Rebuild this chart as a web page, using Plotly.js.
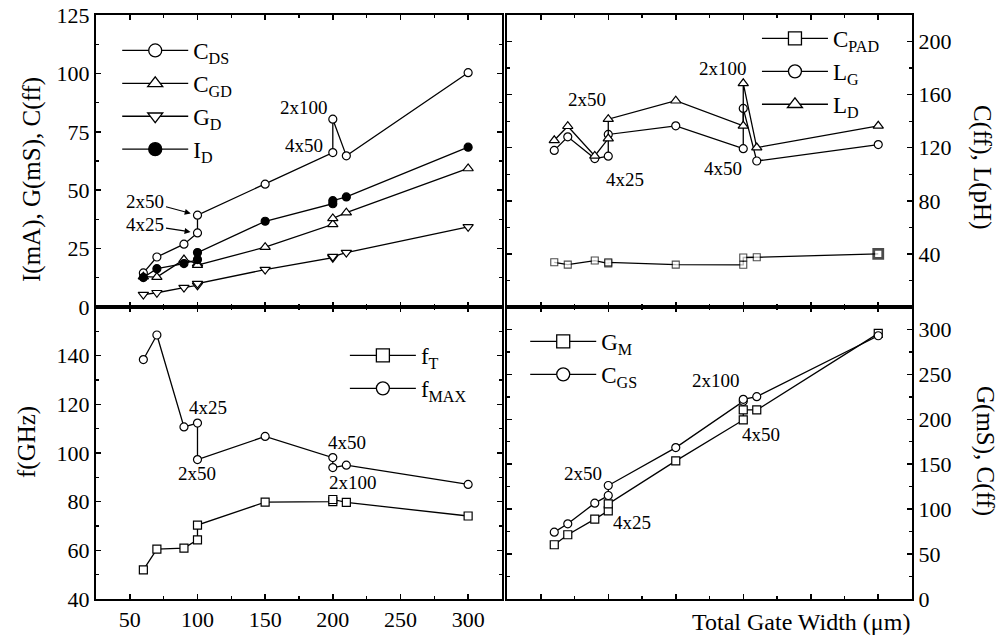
<!DOCTYPE html>
<html><head><meta charset="utf-8">
<script src="https://cdn.plot.ly/plotly-3.0.1.min.js"></script>
<style>html,body{margin:0;padding:0;background:#fff}</style>
</head><body><div id="chart" style="width:1005px;height:641px"></div>
<script>
// Total gate width (um) for each device, in plotting order
const gateWidth = [60, 70, 90, 100, 100, 150, 200, 200, 210, 300];

// Top-left panel
const cDS = [14.6, 21.4, 26.9, 31.7, 39.3, 52.6, 66.1, 80.4, 64.7, 100.3];
const cGD = [13.0, 12.8, 20.3, 18.6, 17.9, 25.6, 35.4, 37.9, 40.4, 59.3];
const gD  = [5.3, 6.1, 8.3, 9.3, 10.0, 16.0, 21.1, 21.6, 23.3, 34.3];
const iD  = [12.6, 16.4, 18.6, 20.3, 23.3, 36.7, 44.2, 45.5, 47.1, 68.4];

// Top-right panel
const cPAD = [33.7, 31.9, 35.0, 32.9, 33.6, 31.9, 31.8, 37.3, 37.5, 40.0];
const lG   = [118.0, 128.2, 111.8, 113.6, 130.0, 136.5, 119.3, 149.6, 110.0, 122.4];
const lD   = [125.6, 136.2, 113.8, 126.9, 141.5, 155.4, 136.5, 168.5, 120.1, 136.5];

// Bottom-left panel
const fT   = [52.0, 60.5, 60.9, 64.3, 70.4, 79.8, 80.0, 80.9, 79.7, 74.1];
const fMAX = [138.4, 148.5, 110.7, 112.3, 97.3, 106.8, 98.1, 94.0, 95.0, 87.1];

// Bottom-right panel
const gM  = [60.4, 71.5, 88.9, 98.1, 105.9, 153.7, 199.3, 210.4, 210.4, 295.6];
const cGS = [74.4, 83.7, 106.7, 115.2, 126.3, 168.5, 220.0, 222.2, 225.2, 293.0];

// Tick labels
const xTicks   = [50, 100, 150, 200, 250, 300];
const yTicksTL = [0, 25, 50, 75, 100, 125];
const yTicksTR = [40, 80, 120, 160, 200];
const yTicksBL = [40, 60, 80, 100, 120, 140];
const yTicksBR = [0, 50, 100, 150, 200, 250, 300];

const FONT = '"Liberation Serif"';
const BLACK = '#000';

function trace(name, y, xa, ya, symbol, fill, size) {
  return {
    type: 'scatter', mode: 'lines+markers', name: name, showlegend: false,
    x: gateWidth, y: y, xaxis: xa, yaxis: ya,
    line: {color: BLACK, width: 1.3},
    marker: {symbol: symbol, size: size || 8, color: fill, line: {color: BLACK, width: 1.2}},
    cliponaxis: false
  };
}
// legend entry (no data points drawn): same style, larger symbol
function key(name, xa, ya, leg, symbol, fill) {
  return {
    type: 'scatter', mode: 'lines+markers', name: name, legend: leg,
    x: [null], y: [null], xaxis: xa, yaxis: ya,
    line: {color: BLACK, width: 1.3},
    marker: {symbol: symbol, size: 13, color: fill, line: {color: BLACK, width: 1.3}}
  };
}

const traces = [
  trace('C<sub>DS</sub>', cDS, 'x', 'y', 'circle', '#fff'),
  trace('C<sub>GD</sub>', cGD, 'x', 'y', 'triangle-up', '#fff', 9),
  trace('G<sub>D</sub>', gD, 'x', 'y', 'triangle-down', '#fff', 9),
  trace('I<sub>D</sub>', iD, 'x', 'y', 'circle', BLACK, 8),
  trace('C<sub>PAD</sub>', cPAD, 'x2', 'y2', 'square', '#fff', 7),
  trace('L<sub>G</sub>', lG, 'x2', 'y2', 'circle', '#fff'),
  trace('L<sub>D</sub>', lD, 'x2', 'y2', 'triangle-up', '#fff', 9),
  trace('f<sub>T</sub>', fT, 'x3', 'y3', 'square', '#fff'),
  trace('f<sub>MAX</sub>', fMAX, 'x3', 'y3', 'circle', '#fff'),
  trace('G<sub>M</sub>', gM, 'x4', 'y4', 'square', '#fff'),
  trace('C<sub>GS</sub>', cGS, 'x4', 'y4', 'circle', '#fff')
];
// bold last C_PAD marker
traces[4].marker.line.width = cPAD.map((v, i) => i === cPAD.length - 1 ? 2.8 : 1.1);
traces[4].marker.size = cPAD.map((v, i) => i === cPAD.length - 1 ? 9 : 7);

const keys = [
  key('C<sub>DS</sub>', 'x', 'y', 'legend', 'circle', '#fff'),
  key('C<sub>GD</sub>', 'x', 'y', 'legend', 'triangle-up', '#fff'),
  key('G<sub>D</sub>', 'x', 'y', 'legend', 'triangle-down', '#fff'),
  key('I<sub>D</sub>', 'x', 'y', 'legend', 'circle', BLACK),
  key('C<sub>PAD</sub>', 'x2', 'y2', 'legend2', 'square', '#fff'),
  key('L<sub>G</sub>', 'x2', 'y2', 'legend2', 'circle', '#fff'),
  key('L<sub>D</sub>', 'x2', 'y2', 'legend2', 'triangle-up', '#fff'),
  key('f<sub>T</sub>', 'x3', 'y3', 'legend3', 'square', '#fff'),
  key('f<sub>MAX</sub>', 'x3', 'y3', 'legend3', 'circle', '#fff'),
  key('G<sub>M</sub>', 'x4', 'y4', 'legend4', 'square', '#fff'),
  key('C<sub>GS</sub>', 'x4', 'y4', 'legend4', 'circle', '#fff')
];

function axis(extra, minorDtick) {
  return Object.assign({
    showline: true, linecolor: BLACK, linewidth: 2, mirror: 'allticks',
    ticks: 'inside', ticklen: 5, tickwidth: 1.5, tickcolor: BLACK,
    showgrid: false, zeroline: false, fixedrange: true,
    tickfont: {family: FONT, size: 22, color: BLACK},
    minor: {ticks: 'inside', ticklen: 3, tickwidth: 1.3, tickcolor: BLACK, showgrid: false, dtick: minorDtick}
  }, extra);
}

const XL = [0, 0.4975], XR = [0.5037, 1], YT = [0.5, 1], YB = [0, 0.5];

function legendAt(x, y) {
  return {x: x, y: y, xanchor: 'left', yanchor: 'top', bgcolor: 'rgba(0,0,0,0)',
    borderwidth: 0, itemwidth: 66,
    font: {family: FONT, size: 23, color: BLACK}, tracegroupgap: 0};
}

function note(text, x, y, xref, yref, extra) {
  return Object.assign({text: text, x: x, y: y, xref: xref, yref: yref, showarrow: false,
    xanchor: 'center', yanchor: 'middle',
    font: {family: FONT, size: 19, color: BLACK}}, extra || {});
}
const TF = {family: FONT, size: 25, color: BLACK};
const py = p => (599 - p) / 584;   // pixel row -> paper y
const px = p => (p - 96) / 816;    // pixel column -> paper x

const annotations = [
  note('2x100', 178.7, 85.6, 'x', 'y'),
  note('4x50', 178.7, 69.3, 'x', 'y'),
  note('2x50', 100, 39.3, 'x', 'y', {showarrow: true, ax: -52, ay: -14, arrowhead: 2, arrowsize: 1, arrowwidth: 1.2, standoff: 7, arrowcolor: BLACK}),
  note('4x25', 100, 31.7, 'x', 'y', {showarrow: true, ax: -52, ay: -8, arrowhead: 2, arrowsize: 1, arrowwidth: 1.2, standoff: 7, arrowcolor: BLACK}),
  note('2x50', 84.3, 156.7, 'x2', 'y2'),
  note('4x25', 112.4, 95.7, 'x2', 'y2'),
  note('2x100', 185, 180, 'x2', 'y2'),
  note('4x50', 185, 104.7, 'x2', 'y2'),
  note('4x25', 107.4, 118.9, 'x3', 'y3'),
  note('2x50', 100, 91.4, 'x3', 'y3'),
  note('4x50', 210.3, 104.5, 'x3', 'y3'),
  note('2x100', 214.7, 87.7, 'x3', 'y3'),
  note('2x100', 179.8, 242.8, 'x4', 'y4'),
  note('4x50', 213.1, 182.6, 'x4', 'y4'),
  note('2x50', 81.3, 139.2, 'x4', 'y4'),
  note('4x25', 117.6, 84.6, 'x4', 'y4'),
  // axis titles
  note('I(mA), G(mS), C(ff)', px(32), py(180), 'paper', 'paper', {textangle: -90, font: TF}),
  note('f(GHz)', px(27), py(442), 'paper', 'paper', {textangle: -90, font: TF}),
  note('C(ff), L(pH)', px(982), py(168), 'paper', 'paper', {textangle: 90, font: TF}),
  note('G(mS), C(ff)', px(985), py(451), 'paper', 'paper', {textangle: 90, font: TF}),
  note('Total Gate Width (\u03bcm)', 1, py(622), 'paper', 'paper', {xanchor: 'right', font: {family: FONT, size: 24, color: BLACK}})
];

const layout = {
  width: 1005, height: 641,
  margin: {l: 96, r: 93, t: 15, b: 42},
  paper_bgcolor: '#fff', plot_bgcolor: 'rgba(0,0,0,0)',
  font: {family: FONT, color: BLACK},
  showlegend: true,
  xaxis:  axis({domain: XL, anchor: 'y',  range: [25, 325], tickvals: xTicks, showticklabels: false}, 25),
  yaxis:  axis({domain: YT, anchor: 'x',  range: [0, 125], tickvals: yTicksTL}, 12.5),
  xaxis2: axis({domain: XR, anchor: 'y2', range: [25, 325], tickvals: xTicks, showticklabels: false}, 25),
  yaxis2: axis({domain: YT, anchor: 'x2', range: [0, 220], tickvals: yTicksTR, side: 'right'}, 20),
  xaxis3: axis({domain: XL, anchor: 'y3', range: [25, 325], tickvals: xTicks}, 25),
  yaxis3: axis({domain: YB, anchor: 'x3', range: [40, 160], tickvals: yTicksBL}, 10),
  xaxis4: axis({domain: XR, anchor: 'y4', range: [25, 325], tickvals: xTicks, showticklabels: false}, 25),
  yaxis4: axis({domain: YB, anchor: 'x4', range: [0, 325], tickvals: yTicksBR, side: 'right'}, 25),
  legend:  legendAt(0.026, py(29)),
  legend2: legendAt(0.81, py(17)),
  legend3: legendAt(0.305, py(334)),
  legend4: legendAt(0.526, py(320)),
  annotations: annotations
};

Plotly.newPlot('chart', traces.concat(keys), layout, {displayModeBar: false, staticPlot: true});
</script>
</body></html>
